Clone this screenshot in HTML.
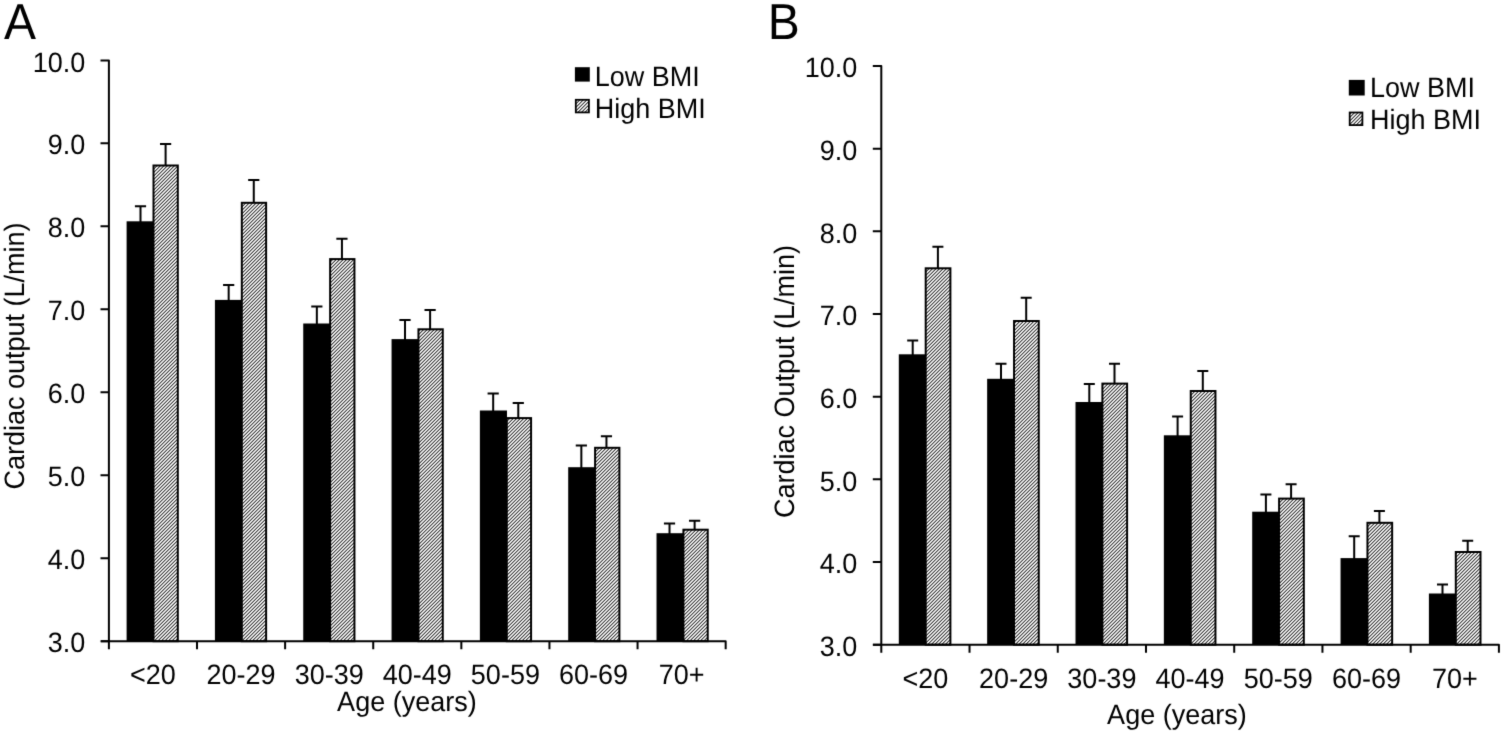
<!DOCTYPE html>
<html><head><meta charset="utf-8"><style>
html,body{margin:0;padding:0;background:#fff;}
body{width:1503px;height:733px;overflow:hidden;}
svg{display:block;}
text{text-rendering:geometricPrecision;font-family:"Liberation Sans",Arial,sans-serif;font-size:27px;fill:#000;}
text.p{font-size:48px;}
.s{stroke:#000;stroke-width:2;fill:none;}
</style></head><body>
<svg width="1503" height="733" viewBox="0 0 1503 733">
<defs>
<pattern id="hatch" patternUnits="userSpaceOnUse" x="0" y="0" width="7" height="7">
<path d="M0 0h1v1h-1zM1 6h1v1h-1zM2 5h1v1h-1zM3 4h1v1h-1zM4 3h1v1h-1zM5 2h1v1h-1zM6 1h1v1h-1z" fill="rgb(63,63,63)"/><path d="M0 1h1v1h-1zM1 0h1v1h-1zM2 6h1v1h-1zM3 5h1v1h-1zM4 4h1v1h-1zM5 3h1v1h-1zM6 2h1v1h-1z" fill="rgb(242,242,242)"/><path d="M0 2h1v1h-1zM1 1h1v1h-1zM2 0h1v1h-1zM3 6h1v1h-1zM4 5h1v1h-1zM5 4h1v1h-1zM6 3h1v1h-1z" fill="rgb(242,242,242)"/><path d="M0 3h1v1h-1zM1 2h1v1h-1zM2 1h1v1h-1zM3 0h1v1h-1zM4 6h1v1h-1zM5 5h1v1h-1zM6 4h1v1h-1z" fill="rgb(63,63,63)"/><path d="M0 4h1v1h-1zM1 3h1v1h-1zM2 2h1v1h-1zM3 1h1v1h-1zM4 0h1v1h-1zM5 6h1v1h-1zM6 5h1v1h-1z" fill="rgb(169,169,169)"/><path d="M0 5h1v1h-1zM1 4h1v1h-1zM2 3h1v1h-1zM3 2h1v1h-1zM4 1h1v1h-1zM5 0h1v1h-1zM6 6h1v1h-1z" fill="rgb(255,255,255)"/><path d="M0 6h1v1h-1zM1 5h1v1h-1zM2 4h1v1h-1zM3 3h1v1h-1zM4 2h1v1h-1zM5 1h1v1h-1zM6 0h1v1h-1z" fill="rgb(169,169,169)"/>
</pattern>
</defs>
<filter id="bl" color-interpolation-filters="sRGB" x="0" y="0" width="1503" height="733" filterUnits="userSpaceOnUse"><feConvolveMatrix order="3" kernelMatrix="0.01134 0.08382 0.01134 0.08382 0.61935 0.08382 0.01134 0.08382 0.01134" edgeMode="duplicate"/></filter>
<rect width="1503" height="733" fill="#fff"/>
<g filter="url(#bl)">
<rect width="1503" height="733" fill="#fff"/>
<path d="M140.50 222.30V206.30M134.90 206.30H146.10M165.60 165.50V143.90M160.00 143.90H171.20" class="s"/>
<rect x="126.60" y="221.30" width="27.10" height="419.90" fill="#000"/>
<rect x="153.50" y="165.50" width="24.30" height="475.70" fill="url(#hatch)" stroke="#000" stroke-width="2.0"/>
<path d="M228.67 300.90V285.00M223.07 285.00H234.27M253.77 202.80V180.10M248.17 180.10H259.37" class="s"/>
<rect x="214.92" y="299.90" width="27.10" height="341.30" fill="#000"/>
<rect x="241.82" y="202.80" width="24.30" height="438.40" fill="url(#hatch)" stroke="#000" stroke-width="2.0"/>
<path d="M316.84 324.50V306.40M311.24 306.40H322.44M341.94 259.10V238.80M336.34 238.80H347.54" class="s"/>
<rect x="303.24" y="323.50" width="27.10" height="317.70" fill="#000"/>
<rect x="330.14" y="259.10" width="24.30" height="382.10" fill="url(#hatch)" stroke="#000" stroke-width="2.0"/>
<path d="M405.01 340.10V320.10M399.41 320.10H410.61M430.11 329.30V310.10M424.51 310.10H435.71" class="s"/>
<rect x="391.56" y="339.10" width="27.10" height="302.10" fill="#000"/>
<rect x="418.46" y="329.30" width="24.30" height="311.90" fill="url(#hatch)" stroke="#000" stroke-width="2.0"/>
<path d="M493.18 411.50V393.60M487.58 393.60H498.78M518.28 418.10V402.90M512.68 402.90H523.88" class="s"/>
<rect x="479.88" y="410.50" width="27.10" height="230.70" fill="#000"/>
<rect x="506.78" y="418.10" width="24.30" height="223.10" fill="url(#hatch)" stroke="#000" stroke-width="2.0"/>
<path d="M581.35 468.20V445.60M575.75 445.60H586.95M606.45 447.80V436.30M600.85 436.30H612.05" class="s"/>
<rect x="568.20" y="467.20" width="27.10" height="174.00" fill="#000"/>
<rect x="595.10" y="447.80" width="24.30" height="193.40" fill="url(#hatch)" stroke="#000" stroke-width="2.0"/>
<path d="M669.52 534.20V523.50M663.92 523.50H675.12M694.62 529.70V520.70M689.02 520.70H700.22" class="s"/>
<rect x="656.52" y="533.20" width="27.10" height="108.00" fill="#000"/>
<rect x="683.42" y="529.70" width="24.30" height="111.50" fill="url(#hatch)" stroke="#000" stroke-width="2.0"/>
<path d="M100.50 60.50H108.90V641.20" class="s" stroke-linejoin="round"/>
<path d="M101.00 641.20H725.67V649.20" class="s" stroke-linejoin="round"/>
<path d="M100.50 143.20H108.90M100.50 226.20H108.90M100.50 309.20H108.90M100.50 392.20H108.90M100.50 475.20H108.90M100.50 558.20H108.90M100.50 641.20H108.90M108.90 641.20V649.20M197.01 641.20V649.20M285.12 641.20V649.20M373.23 641.20V649.20M461.34 641.20V649.20M549.45 641.20V649.20M637.56 641.20V649.20" class="s"/>
<text transform="translate(85.30,71.60) scale(1,1.04)" text-anchor="end">10.0</text>
<text transform="translate(85.30,154.30) scale(1,1.04)" text-anchor="end">9.0</text>
<text transform="translate(85.30,237.30) scale(1,1.04)" text-anchor="end">8.0</text>
<text transform="translate(85.30,320.30) scale(1,1.04)" text-anchor="end">7.0</text>
<text transform="translate(85.30,403.30) scale(1,1.04)" text-anchor="end">6.0</text>
<text transform="translate(85.30,486.30) scale(1,1.04)" text-anchor="end">5.0</text>
<text transform="translate(85.30,569.30) scale(1,1.04)" text-anchor="end">4.0</text>
<text transform="translate(85.30,652.30) scale(1,1.04)" text-anchor="end">3.0</text>
<text transform="translate(152.96,684.45) scale(1,1.04)" text-anchor="middle">&lt;20</text>
<text transform="translate(241.06,684.45) scale(1,1.04)" text-anchor="middle">20-29</text>
<text transform="translate(329.18,684.45) scale(1,1.04)" text-anchor="middle">30-39</text>
<text transform="translate(417.28,684.45) scale(1,1.04)" text-anchor="middle">40-49</text>
<text transform="translate(505.39,684.45) scale(1,1.04)" text-anchor="middle">50-59</text>
<text transform="translate(593.50,684.45) scale(1,1.04)" text-anchor="middle">60-69</text>
<text transform="translate(681.62,684.45) scale(1,1.04)" text-anchor="middle">70+</text>
<text transform="translate(406.90,711.20) scale(1,1.04)" text-anchor="middle">Age (years)</text>
<text transform="translate(24.20,356.00) rotate(-90) scale(1,1.04)" text-anchor="middle">Cardiac output (L/min)</text>
<rect x="574.90" y="67.20" width="14.90" height="14.40" fill="#000"/>
<rect x="575.80" y="99.80" width="13.10" height="12.60" fill="url(#hatch)" stroke="#000" stroke-width="1.8"/>
<text transform="translate(594.70,86.40) scale(1,1.04)">Low BMI</text>
<text transform="translate(594.70,117.80) scale(1,1.04)">High BMI</text>
<text transform="translate(4.00,38.70) scale(1,1.055)" class="p">A</text>
<path d="M912.70 355.30V340.40M907.20 340.40H918.20M937.90 268.30V246.80M932.40 246.80H943.40" class="s"/>
<rect x="898.80" y="354.30" width="27.10" height="290.40" fill="#000"/>
<rect x="925.70" y="268.30" width="24.70" height="376.40" fill="url(#hatch)" stroke="#000" stroke-width="2.0"/>
<path d="M1001.00 379.80V363.80M995.50 363.80H1006.50M1026.20 321.00V297.80M1020.70 297.80H1031.70" class="s"/>
<rect x="987.15" y="378.80" width="27.10" height="265.90" fill="#000"/>
<rect x="1014.05" y="321.00" width="24.70" height="323.70" fill="url(#hatch)" stroke="#000" stroke-width="2.0"/>
<path d="M1089.30 403.00V384.10M1083.80 384.10H1094.80M1114.50 383.60V363.70M1109.00 363.70H1120.00" class="s"/>
<rect x="1075.50" y="402.00" width="27.10" height="242.70" fill="#000"/>
<rect x="1102.40" y="383.60" width="24.70" height="261.10" fill="url(#hatch)" stroke="#000" stroke-width="2.0"/>
<path d="M1177.60 436.30V416.60M1172.10 416.60H1183.10M1202.80 391.00V370.90M1197.30 370.90H1208.30" class="s"/>
<rect x="1163.85" y="435.30" width="27.10" height="209.40" fill="#000"/>
<rect x="1190.75" y="391.00" width="24.70" height="253.70" fill="url(#hatch)" stroke="#000" stroke-width="2.0"/>
<path d="M1265.90 512.70V494.50M1260.40 494.50H1271.40M1291.10 498.60V484.20M1285.60 484.20H1296.60" class="s"/>
<rect x="1252.20" y="511.70" width="27.10" height="133.00" fill="#000"/>
<rect x="1279.10" y="498.60" width="24.70" height="146.10" fill="url(#hatch)" stroke="#000" stroke-width="2.0"/>
<path d="M1354.20 559.10V536.20M1348.70 536.20H1359.70M1379.40 522.80V511.10M1373.90 511.10H1384.90" class="s"/>
<rect x="1340.55" y="558.10" width="27.10" height="86.60" fill="#000"/>
<rect x="1367.45" y="522.80" width="24.70" height="121.90" fill="url(#hatch)" stroke="#000" stroke-width="2.0"/>
<path d="M1442.50 594.50V584.40M1437.00 584.40H1448.00M1467.70 552.00V540.70M1462.20 540.70H1473.20" class="s"/>
<rect x="1428.90" y="593.50" width="27.10" height="51.20" fill="#000"/>
<rect x="1455.80" y="552.00" width="24.70" height="92.70" fill="url(#hatch)" stroke="#000" stroke-width="2.0"/>
<path d="M872.80 66.00H881.30V644.70" class="s" stroke-linejoin="round"/>
<path d="M873.00 644.70H1498.91V652.70" class="s" stroke-linejoin="round"/>
<path d="M872.80 148.67H881.30M872.80 231.34H881.30M872.80 314.01H881.30M872.80 396.69H881.30M872.80 479.36H881.30M872.80 562.03H881.30M872.80 644.70H881.30M881.30 644.70V652.70M969.53 644.70V652.70M1057.76 644.70V652.70M1145.99 644.70V652.70M1234.22 644.70V652.70M1322.45 644.70V652.70M1410.68 644.70V652.70" class="s"/>
<text transform="translate(857.30,77.30) scale(1,1.04)" text-anchor="end">10.0</text>
<text transform="translate(857.30,159.97) scale(1,1.04)" text-anchor="end">9.0</text>
<text transform="translate(857.30,242.64) scale(1,1.04)" text-anchor="end">8.0</text>
<text transform="translate(857.30,325.31) scale(1,1.04)" text-anchor="end">7.0</text>
<text transform="translate(857.30,407.99) scale(1,1.04)" text-anchor="end">6.0</text>
<text transform="translate(857.30,490.66) scale(1,1.04)" text-anchor="end">5.0</text>
<text transform="translate(857.30,573.33) scale(1,1.04)" text-anchor="end">4.0</text>
<text transform="translate(857.30,656.00) scale(1,1.04)" text-anchor="end">3.0</text>
<text transform="translate(925.41,688.20) scale(1,1.04)" text-anchor="middle">&lt;20</text>
<text transform="translate(1013.64,688.20) scale(1,1.04)" text-anchor="middle">20-29</text>
<text transform="translate(1101.88,688.20) scale(1,1.04)" text-anchor="middle">30-39</text>
<text transform="translate(1190.11,688.20) scale(1,1.04)" text-anchor="middle">40-49</text>
<text transform="translate(1278.34,688.20) scale(1,1.04)" text-anchor="middle">50-59</text>
<text transform="translate(1366.57,688.20) scale(1,1.04)" text-anchor="middle">60-69</text>
<text transform="translate(1454.80,688.20) scale(1,1.04)" text-anchor="middle">70+</text>
<text transform="translate(1176.90,723.60) scale(1,1.04)" text-anchor="middle">Age (years)</text>
<text transform="translate(794.30,381.50) rotate(-90) scale(1,1.04)" text-anchor="middle">Cardiac Output (L/min)</text>
<rect x="1348.80" y="79.90" width="15.90" height="15.60" fill="#000"/>
<rect x="1349.70" y="112.50" width="12.70" height="12.60" fill="url(#hatch)" stroke="#000" stroke-width="1.8"/>
<text transform="translate(1370.00,97.40) scale(1,1.04)">Low BMI</text>
<text transform="translate(1370.00,128.80) scale(1,1.04)">High BMI</text>
<text transform="translate(767.80,38.70) scale(1,1.055)" class="p">B</text>
</g>
</svg>
</body></html>
